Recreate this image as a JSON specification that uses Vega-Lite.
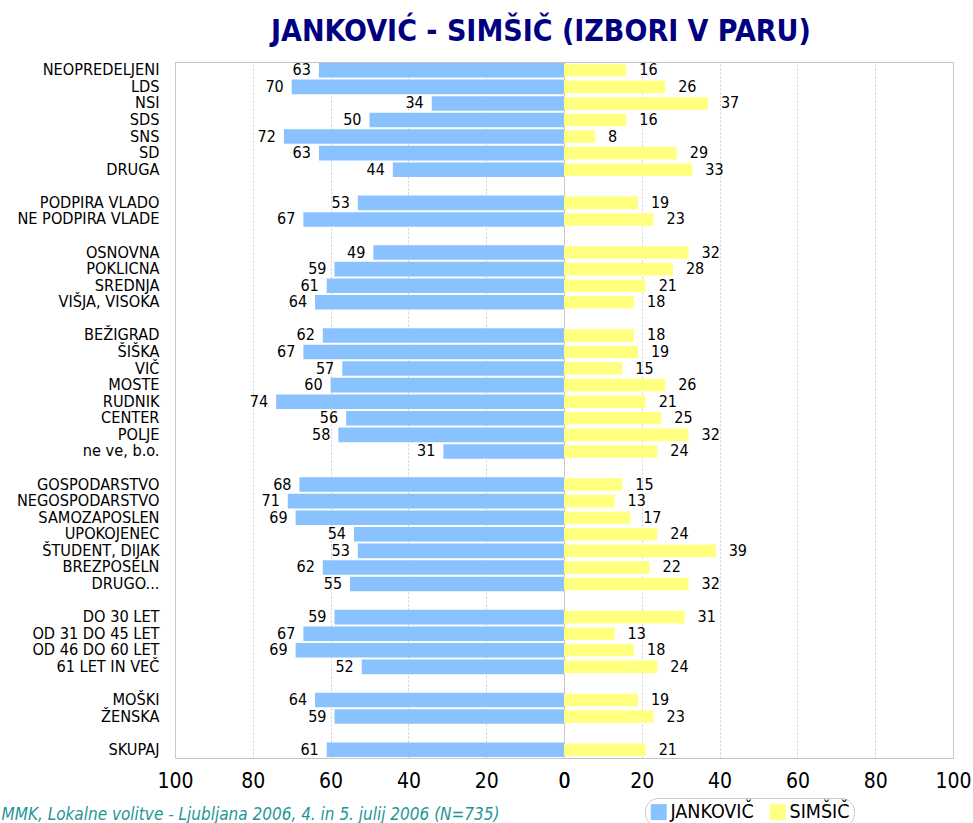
{
  "$schema": "https://vega.github.io/schema/vega-lite/v6.json",
  "padding": {"left": 0, "top": 17, "right": 0, "bottom": 0},
  "background": "white",
  "bounds": "flush",
  "title": {
    "text": "JANKOVIĆ - SIMŠIČ (IZBORI V PARU)",
    "font": "DejaVu Sans Condensed",
    "fontWeight": "bold",
    "fontSize": 30,
    "color": "#000080",
    "anchor": "start",
    "frame": "group",
    "dx": 96,
    "offset": 14
  },
  "config": {
    "view": {"stroke": "#c4c4c4", "strokeWidth": 1},
    "font": "DejaVu Sans Condensed",
    "axis": {"labelFont": "DejaVu Sans Condensed", "titleFont": "DejaVu Sans Condensed"},
    "legend": {"labelFont": "DejaVu Sans Condensed"}
  },
  "data": {
    "values": [
      {"cat": "NEOPREDELJENI", "j": 63, "s": 16},
      {"cat": "LDS", "j": 70, "s": 26},
      {"cat": "NSI", "j": 34, "s": 37},
      {"cat": "SDS", "j": 50, "s": 16},
      {"cat": "SNS", "j": 72, "s": 8},
      {"cat": "SD", "j": 63, "s": 29},
      {"cat": "DRUGA", "j": 44, "s": 33},
      {"cat": "PODPIRA VLADO", "j": 53, "s": 19},
      {"cat": "NE PODPIRA VLADE", "j": 67, "s": 23},
      {"cat": "OSNOVNA", "j": 49, "s": 32},
      {"cat": "POKLICNA", "j": 59, "s": 28},
      {"cat": "SREDNJA", "j": 61, "s": 21},
      {"cat": "VIŠJA, VISOKA", "j": 64, "s": 18},
      {"cat": "BEŽIGRAD", "j": 62, "s": 18},
      {"cat": "ŠIŠKA", "j": 67, "s": 19},
      {"cat": "VIČ", "j": 57, "s": 15},
      {"cat": "MOSTE", "j": 60, "s": 26},
      {"cat": "RUDNIK", "j": 74, "s": 21},
      {"cat": "CENTER", "j": 56, "s": 25},
      {"cat": "POLJE", "j": 58, "s": 32},
      {"cat": "ne ve, b.o.", "j": 31, "s": 24},
      {"cat": "GOSPODARSTVO", "j": 68, "s": 15},
      {"cat": "NEGOSPODARSTVO", "j": 71, "s": 13},
      {"cat": "SAMOZAPOSLEN", "j": 69, "s": 17},
      {"cat": "UPOKOJENEC", "j": 54, "s": 24},
      {"cat": "ŠTUDENT, DIJAK", "j": 53, "s": 39},
      {"cat": "BREZPOSELN", "j": 62, "s": 22},
      {"cat": "DRUGO...", "j": 55, "s": 32},
      {"cat": "DO 30 LET", "j": 59, "s": 31},
      {"cat": "OD 31 DO 45 LET", "j": 67, "s": 13},
      {"cat": "OD 46 DO 60 LET", "j": 69, "s": 18},
      {"cat": "61 LET IN VEČ", "j": 52, "s": 24},
      {"cat": "MOŠKI", "j": 64, "s": 19},
      {"cat": "ŽENSKA", "j": 59, "s": 23},
      {"cat": "SKUPAJ", "j": 61, "s": 21}
    ]
  },
  "spacing": 0,
  "hconcat": [
    {
      "width": 389,
      "height": 696,
      "encoding": {
        "y": {
          "field": "cat",
          "type": "nominal",
          "sort": null,
          "scale": {
            "domain": ["NEOPREDELJENI", "LDS", "NSI", "SDS", "SNS", "SD", "DRUGA", " ", "PODPIRA VLADO", "NE PODPIRA VLADE", "  ", "OSNOVNA", "POKLICNA", "SREDNJA", "VIŠJA, VISOKA", "   ", "BEŽIGRAD", "ŠIŠKA", "VIČ", "MOSTE", "RUDNIK", "CENTER", "POLJE", "ne ve, b.o.", "    ", "GOSPODARSTVO", "NEGOSPODARSTVO", "SAMOZAPOSLEN", "UPOKOJENEC", "ŠTUDENT, DIJAK", "BREZPOSELN", "DRUGO...", "     ", "DO 30 LET", "OD 31 DO 45 LET", "OD 46 DO 60 LET", "61 LET IN VEČ", "      ", "MOŠKI", "ŽENSKA", "       ", "SKUPAJ"],
            "paddingInner": 0,
            "paddingOuter": 0
          },
          "axis": {
            "title": null,
            "ticks": false,
            "domain": false,
            "labelFontSize": 16.2,
            "labelColor": "#000000",
            "labelPadding": 16,
            "labelLimit": 300
          }
        },
        "x": {
          "field": "j",
          "type": "quantitative",
          "scale": {"domain": [0, 100], "reverse": true},
          "axis": {
            "values": [0, 20, 40, 60, 80, 100],
            "grid": true,
            "gridDash": [2, 2],
            "gridColor": "#cfcfcf",
            "ticks": false,
            "domain": false,
            "labelFontSize": 21,
            "labelColor": "#000000",
            "labelPadding": 12,
            "labelFlush": false,
            "labelOverlap": false,
            "title": "MMK, Lokalne volitve - Ljubljana 2006, 4. in 5. julij 2006 (N=735)",
            "titleFontSize": 17,
            "titleFontStyle": "italic",
            "titleFontWeight": "normal",
            "titleColor": "#1E9696",
            "titleAnchor": null,
            "titleAlign": "left",
            "titleBaseline": "alphabetic",
            "titleX": -174,
            "titleY": 61
          }
        }
      },
      "layer": [
        {
          "mark": {"type": "bar", "height": {"band": 0.88}},
          "encoding": {
            "color": {
              "datum": "JANKOVIČ",
              "type": "nominal",
              "scale": {"domain": ["JANKOVIČ", "SIMŠIČ"], "range": ["#8AC2FF", "#FFFF80"]},
              "legend": {
                "title": null,
                "orient": "none",
                "direction": "horizontal",
                "legendX": 470,
                "legendY": 736,
                "symbolType": "square",
                "symbolSize": 256,
                "symbolStrokeWidth": 0,
                "labelFontSize": 19.5,
                "labelColor": "#000000",
                "labelOffset": 2,
                "columnPadding": 14,
                "strokeColor": "#c8c8c8",
                "cornerRadius": 13,
                "padding": 4
              }
            }
          }
        },
        {
          "mark": {"type": "text", "align": "right", "baseline": "middle", "dx": -8, "fontSize": 16, "color": "#000000"},
          "encoding": {"text": {"field": "j", "type": "quantitative"}}
        }
      ]
    },
    {
      "width": 389,
      "height": 696,
      "encoding": {
        "y": {
          "field": "cat",
          "type": "nominal",
          "sort": null,
          "scale": {
            "domain": ["NEOPREDELJENI", "LDS", "NSI", "SDS", "SNS", "SD", "DRUGA", " ", "PODPIRA VLADO", "NE PODPIRA VLADE", "  ", "OSNOVNA", "POKLICNA", "SREDNJA", "VIŠJA, VISOKA", "   ", "BEŽIGRAD", "ŠIŠKA", "VIČ", "MOSTE", "RUDNIK", "CENTER", "POLJE", "ne ve, b.o.", "    ", "GOSPODARSTVO", "NEGOSPODARSTVO", "SAMOZAPOSLEN", "UPOKOJENEC", "ŠTUDENT, DIJAK", "BREZPOSELN", "DRUGO...", "     ", "DO 30 LET", "OD 31 DO 45 LET", "OD 46 DO 60 LET", "61 LET IN VEČ", "      ", "MOŠKI", "ŽENSKA", "       ", "SKUPAJ"],
            "paddingInner": 0,
            "paddingOuter": 0
          },
          "axis": null
        },
        "x": {
          "field": "s",
          "type": "quantitative",
          "scale": {"domain": [0, 100]},
          "axis": {
            "values": [0, 20, 40, 60, 80, 100],
            "grid": true,
            "gridDash": [2, 2],
            "gridColor": "#cfcfcf",
            "ticks": false,
            "domain": false,
            "labelFontSize": 21,
            "labelColor": "#000000",
            "labelPadding": 12,
            "labelFlush": false,
            "labelOverlap": false,
            "title": null
          }
        }
      },
      "layer": [
        {
          "mark": {"type": "bar", "height": {"band": 0.76}},
          "encoding": {
            "color": {"datum": "SIMŠIČ", "type": "nominal"}
          }
        },
        {
          "mark": {"type": "text", "align": "left", "baseline": "middle", "dx": 13, "fontSize": 16, "color": "#000000"},
          "encoding": {"text": {"field": "s", "type": "quantitative"}}
        }
      ]
    }
  ]
}
